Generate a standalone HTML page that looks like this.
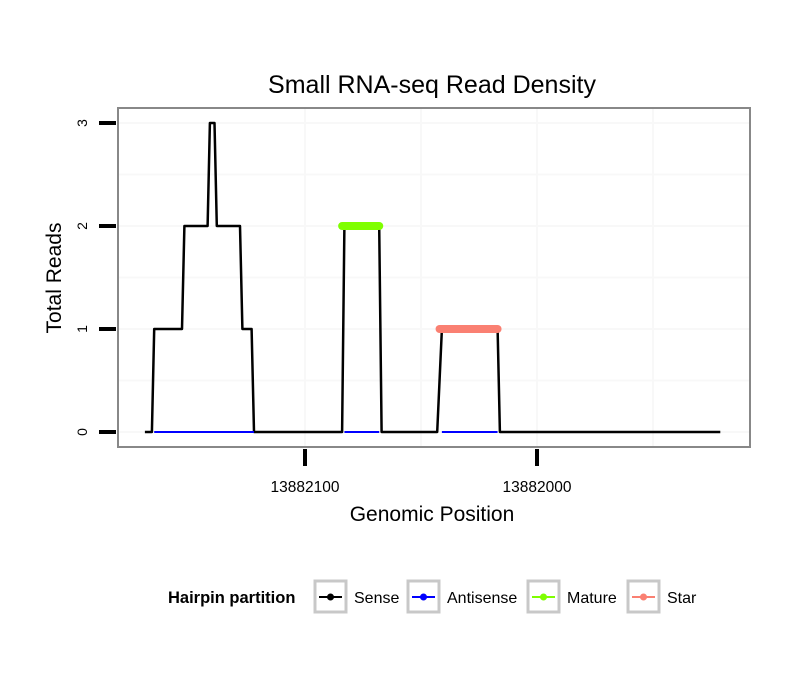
<!DOCTYPE html>
<html><head><meta charset="utf-8"><style>
body{margin:0;background:#fff;font-family:"Liberation Sans",sans-serif}
</style></head><body>
<svg id="chart" width="810" height="690" xmlns="http://www.w3.org/2000/svg" font-family="Liberation Sans, sans-serif">
<rect width="810" height="690" fill="#fff"/>
<text x="432" y="93" text-anchor="middle" font-size="25">Small RNA-seq Read Density</text>
<g id="grid"></g>
<g id="series"></g>
<rect x="118" y="108" width="632" height="339" fill="none" stroke="#888" stroke-width="2"/>
<g id="axes"></g>
<text x="432" y="521" text-anchor="middle" font-size="21">Genomic Position</text>
<text transform="translate(61,278) rotate(-90)" text-anchor="middle" font-size="21">Total Reads</text>
<g id="legend"></g>
</svg>
<script>
const sensePos=[13882169,13882166,13882165,13882153,13882152,13882142,13882141,13882139,13882138,13882128,13882127,13882123,13882122,13882084,13882083,13882068,13882067,13882043,13882041,13882017,13882016,13881921];
const senseVal=[0,0,1,1,2,2,3,3,2,2,1,1,0,0,2,2,0,0,1,1,0,0];
const antisenseSegs=[[13882165,13882122],[13882083,13882068],[13882041,13882017]];
const matureSeg=[13882084,13882068,2];
const starSeg=[13882042,13882017,1];
const xTicks=[13882100,13882000];
const xMinor=[13882050,13881950];
const yTicks=[0,1,2,3];
const yMinor=[0.5,1.5,2.5];
const legendLabels=["Sense","Antisense","Mature","Star"];
const legendColors=["#000","#0000ff","#7fff00","#fa8072"];

const NS="http://www.w3.org/2000/svg";
function X(p){return 305+(13882100-p)*2.32;}
function Y(v){return 432-v*103;}
function mk(tag,attrs,parent){const e=document.createElementNS(NS,tag);for(const k in attrs)e.setAttribute(k,attrs[k]);parent.appendChild(e);return e;}
const grid=document.getElementById('grid'),ser=document.getElementById('series'),ax=document.getElementById('axes'),lg=document.getElementById('legend');
xTicks.concat(xMinor).forEach(p=>{const l=mk('line',{x1:X(p),x2:X(p),y1:109,y2:446,stroke:'#f8f8f8','stroke-width':2},grid);

});
yTicks.concat(yMinor).forEach(v=>{const l=mk('line',{x1:119,x2:749,y1:Y(v),y2:Y(v),stroke:'#f8f8f8','stroke-width':2},grid);

});
let d=sensePos.map((p,i)=>(i?'L':'M')+X(p).toFixed(1)+','+Y(senseVal[i]).toFixed(1)).join(' ');
const sp=mk('path',{d:d,fill:'none',stroke:'#000','stroke-width':2.5,'stroke-linejoin':'round'},ser);


antisenseSegs.forEach(s=>{const l=mk('line',{x1:X(s[0]),x2:X(s[1]),y1:Y(0),y2:Y(0),stroke:'#0000ff','stroke-width':2},ser);

});
const m=mk('line',{x1:X(matureSeg[0]),x2:X(matureSeg[1]),y1:Y(matureSeg[2]),y2:Y(matureSeg[2]),stroke:'#7fff00','stroke-width':8,'stroke-linecap':'round'},ser);


const st=mk('line',{x1:X(starSeg[0]),x2:X(starSeg[1]),y1:Y(starSeg[2]),y2:Y(starSeg[2]),stroke:'#fa8072','stroke-width':8,'stroke-linecap':'round'},ser);


yTicks.forEach(v=>{const t=mk('line',{x1:99,x2:116,y1:Y(v),y2:Y(v),stroke:'#000','stroke-width':4},ax);


const tx=mk('text',{transform:`translate(87,${Y(v)}) rotate(-90)`,'text-anchor':'middle','font-size':14},ax);tx.textContent=v;

});
xTicks.forEach(p=>{const t=mk('line',{x1:X(p),x2:X(p),y1:449,y2:466,stroke:'#000','stroke-width':4},ax);


const tx=mk('text',{x:X(p),y:492,'text-anchor':'middle','font-size':15.5},ax);tx.textContent=p;

});
const lt=mk('text',{x:168,y:603,'font-size':16.5,'font-weight':'bold'},lg);lt.textContent='Hairpin partition';


const boxX=[315,408,528,628];
legendLabels.forEach((lab,i)=>{const x=boxX[i];
const b=mk('rect',{x:x,y:581,width:31,height:31,fill:'#fff',stroke:'#c8c8c8','stroke-width':3},lg);


const l=mk('line',{x1:x+4,x2:x+27,y1:597,y2:597,stroke:legendColors[i],'stroke-width':2},lg);


const c=mk('circle',{cx:x+15.5,cy:597,r:3.5,fill:legendColors[i]},lg);


const t=mk('text',{x:x+39,y:603,'font-size':16},lg);t.textContent=lab;

});
</script>
</body></html>
